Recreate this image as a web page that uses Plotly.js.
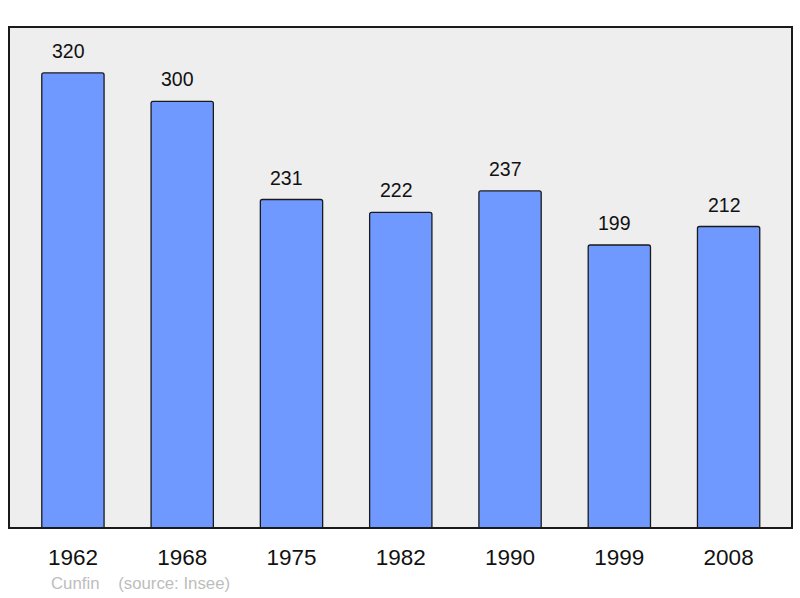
<!DOCTYPE html>
<html><head><meta charset="utf-8">
<script src="https://cdn.plot.ly/plotly-3.0.1.min.js"></script>
<style>html,body{margin:0;padding:0;background:#fff;}#chart{width:800px;height:598px;}</style>
</head><body><div id="chart"></div>
<script>
var years = ["1962","1968","1975","1982","1990","1999","2008"];
var population = [320,300,231,222,237,199,212];
var footerCommune = "Cunfin";
var footerSource = "(source: Insee)";

var trace = {
  type: "bar",
  x: years,
  y: population,
  width: 0.57,
  marker: {color: "#7099ff", line: {color: "#1a1a1a", width: 1.3}, cornerradius: 2},
  hoverinfo: "none"
};
var annotations = years.map(function(y, i){
  return {x: i, y: population[i], xref: "x", yref: "y", text: String(population[i]),
    showarrow: false, yanchor: "bottom", yshift: 9, xshift: -4.5,
    font: {family: "Liberation Sans, Arial, sans-serif", size: 19.5, color: "#111"}};
});
annotations.push({xref: "paper", yref: "paper", x: 40/783, y: 0, xanchor: "left", yanchor: "top",
  yshift: -44, text: footerCommune + "&nbsp;&nbsp;&nbsp;&nbsp;" + footerSource, showarrow: false,
  font: {family: "Liberation Sans, Arial, sans-serif", size: 16.8, color: "#bdbdbd"}});
var layout = {
  width: 800, height: 598,
  margin: {l: 9, r: 8, t: 27, b: 70, pad: 0},
  paper_bgcolor: "#ffffff",
  plot_bgcolor: "#eeeeee",
  showlegend: false,
  xaxis: {type: "category", range: [-0.585, 6.58], showgrid: false, zeroline: false, showline: false,
    ticks: "", ticklabelstandoff: 13,
    tickfont: {family: "Liberation Sans, Arial, sans-serif", size: 22.5, color: "#111"}},
  yaxis: {range: [0, 352.3], showgrid: false, zeroline: false, showline: false, showticklabels: false, ticks: ""},
  shapes: [{type: "rect", xref: "paper", yref: "paper", x0: 0, x1: 1, y0: 0, y1: 1,
    line: {color: "#1a1a1a", width: 2}, fillcolor: "rgba(0,0,0,0)", layer: "above"}],
  annotations: annotations
};
Plotly.newPlot("chart", [trace], layout, {staticPlot: true, displayModeBar: false});
</script></body></html>
